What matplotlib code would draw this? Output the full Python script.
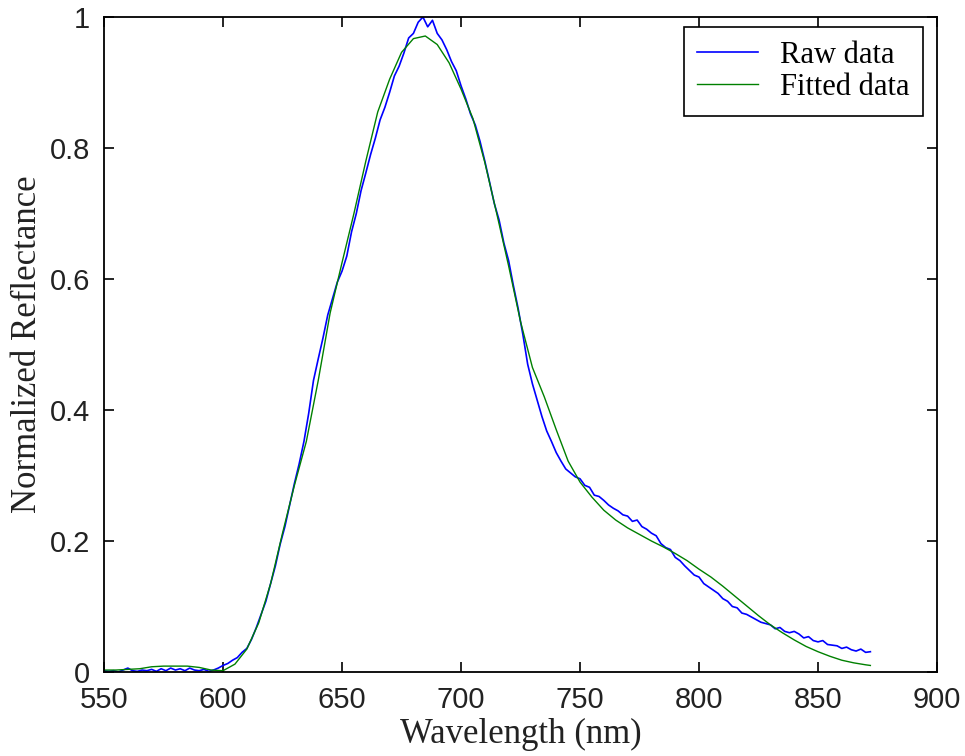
import numpy as np
import matplotlib
matplotlib.use("Agg")
import matplotlib.pyplot as plt

# fitted curve, every 5 nm
fit_nm = [550, 555, 560, 565, 570, 575, 580, 585, 590, 595, 600, 605, 610, 615,
          620, 625, 630, 635, 640, 645, 650, 655, 660, 665, 670, 675, 680, 685,
          690, 695, 700, 705, 710, 715, 720, 725, 730, 735, 740, 745, 750, 755,
          760, 765, 770, 775, 780, 785, 790, 795, 800, 805, 810, 815, 820, 825,
          830, 835, 840, 845, 850, 855, 860, 865, 870, 872]
fit_val = [0.003, 0.003, 0.004, 0.005, 0.008, 0.009, 0.009, 0.009, 0.007, 0.003,
           0.002, 0.012, 0.035, 0.075, 0.135, 0.212, 0.285, 0.352, 0.445, 0.548,
           0.625, 0.700, 0.780, 0.855, 0.905, 0.946, 0.967, 0.971, 0.958, 0.930,
           0.890, 0.845, 0.778, 0.700, 0.620, 0.535, 0.465, 0.420, 0.370, 0.322,
           0.290, 0.267, 0.247, 0.232, 0.220, 0.210, 0.200, 0.191, 0.181, 0.170,
           0.157, 0.145, 0.131, 0.116, 0.101, 0.086, 0.072, 0.060, 0.049, 0.039,
           0.031, 0.024, 0.018, 0.014, 0.011, 0.010]

raw_nm = list(range(550, 873, 2))
raw_val = [0.002, 0.001, 0.002, 0.000, 0.003, 0.006, 0.002, 0.001, 0.003, 0.002,
           0.004, 0.001, 0.005, 0.002, 0.006, 0.003, 0.005, 0.002, 0.006, 0.003,
           0.002, 0.004, 0.001, 0.003, 0.006, 0.010, 0.013, 0.018, 0.022, 0.030,
           0.036, 0.050, 0.068, 0.088, 0.108, 0.135, 0.162, 0.195, 0.222, 0.255,
           0.288, 0.318, 0.352, 0.395, 0.445, 0.478, 0.510, 0.545, 0.570, 0.595,
           0.612, 0.635, 0.672, 0.700, 0.735, 0.762, 0.790, 0.815, 0.843, 0.862,
           0.885, 0.910, 0.925, 0.945, 0.968, 0.975, 0.992, 1.000, 0.985, 0.995,
           0.975, 0.965, 0.950, 0.932, 0.918, 0.895, 0.875, 0.852, 0.835, 0.810,
           0.780, 0.748, 0.715, 0.690, 0.655, 0.628, 0.590, 0.555, 0.515, 0.470,
           0.440, 0.415, 0.390, 0.368, 0.352, 0.335, 0.322, 0.310, 0.304, 0.298,
           0.295, 0.285, 0.282, 0.270, 0.268, 0.262, 0.255, 0.250, 0.246, 0.240,
           0.238, 0.230, 0.232, 0.222, 0.218, 0.212, 0.208, 0.196, 0.190, 0.187,
           0.175, 0.170, 0.162, 0.155, 0.148, 0.145, 0.135, 0.130, 0.125, 0.120,
           0.112, 0.108, 0.100, 0.098, 0.090, 0.088, 0.084, 0.080, 0.076, 0.074,
           0.072, 0.066, 0.068, 0.062, 0.060, 0.062, 0.058, 0.052, 0.054, 0.048,
           0.046, 0.048, 0.042, 0.041, 0.040, 0.036, 0.038, 0.034, 0.032, 0.035,
           0.030, 0.031]

fig = plt.figure(figsize=(9.65, 7.56), dpi=100)
ax = fig.add_axes([0.1078, 0.1111, 0.8632, 0.8664])

ax.plot(raw_nm, raw_val, color="#0000ff", linewidth=1.2, label="Raw data")
ax.plot(fit_nm, fit_val, color="#008000", linewidth=1.0, label="Fitted data")

ax.set_xlim(550, 900)
ax.set_ylim(0, 1)
ax.set_xticks(np.arange(550, 901, 50))
ax.set_yticks([0, 0.2, 0.4, 0.6, 0.8, 1])
ax.set_yticklabels(["0", "0.2", "0.4", "0.6", "0.8", "1"])

ax.tick_params(direction="in", length=7, width=1.2, top=True, right=True,
               labelsize=21, labelcolor="#222222")
ax.tick_params(axis="y", pad=10)
ax.tick_params(axis="x", pad=10)
for lab in ax.get_xticklabels() + ax.get_yticklabels():
    lab.set_family("Liberation Sans")
for sp in ax.spines.values():
    sp.set_linewidth(1.3)

ax.set_xlabel("Wavelength (nm)", family="Liberation Serif", fontsize=25,
              labelpad=3, color="#222222")
ax.set_ylabel("Normalized Reflectance", family="Liberation Serif", fontsize=25,
              labelpad=4, color="#222222")

leg = ax.legend(loc="upper right", prop={"family": "Liberation Serif", "size": 22},
                fancybox=False, edgecolor="black", framealpha=1,
                handlelength=2.0, handletextpad=0.7, borderpad=0.45,
                labelspacing=0.1, borderaxespad=0,
                bbox_to_anchor=(0.9832, 0.9847))
leg.get_frame().set_linewidth(1.2)

fig.savefig("out.png", dpi=100)
